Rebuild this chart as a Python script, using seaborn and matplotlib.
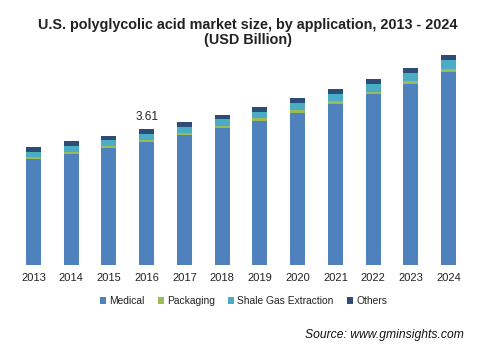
import matplotlib
matplotlib.use("Agg")
import matplotlib.pyplot as plt
import seaborn as sns
import pandas as pd
import numpy as np
from matplotlib.patches import Patch

years = ["2013", "2014", "2015", "2016", "2017", "2018", "2019", "2020", "2021", "2022", "2023", "2024"]
medical = [2.81, 2.95, 3.11, 3.27, 3.45, 3.64, 3.82, 4.03, 4.27, 4.54, 4.80, 5.12]
packaging = [0.05, 0.05, 0.05, 0.06, 0.06, 0.05, 0.08, 0.08, 0.08, 0.05, 0.08, 0.08]
shale = [0.14, 0.16, 0.16, 0.15, 0.15, 0.19, 0.16, 0.19, 0.19, 0.21, 0.21, 0.24]
others = [0.13, 0.13, 0.11, 0.13, 0.13, 0.11, 0.13, 0.13, 0.13, 0.13, 0.13, 0.13]
series_names = ["Medical", "Packaging", "Shale Gas Extraction", "Others"]
colors = ["#4f81bd", "#9bbb59", "#4bacc6", "#2c4d75"]
annot_year = "2016"
annot_text = "3.61"

sns.set_theme(style="white")
plt.rcParams["font.family"] = ["Liberation Sans", "DejaVu Sans"]

df = pd.DataFrame({"year": years, "Medical": medical, "Packaging": packaging,
                   "Shale Gas Extraction": shale, "Others": others})
cum = df[series_names].cumsum(axis=1)

fig = plt.figure(figsize=(4.84, 3.45), dpi=100)
ax = fig.add_axes([0.030, 0.232, 0.936, 0.655])

for name, col in reversed(list(zip(series_names, colors))):
    sns.barplot(x=df["year"], y=cum[name], color=col, width=0.40, ax=ax,
                saturation=1, linewidth=0, order=years)

ax.set_ylim(0, 6.0)
ax.set_xlim(-0.5, len(years) - 0.5)
ax.set_xlabel("")
ax.set_ylabel("")
ax.set_yticks([])
for s in ax.spines.values():
    s.set_visible(False)
ax.tick_params(axis="x", length=0, labelsize=8, colors="#222222", pad=6)

idx = years.index(annot_year)
total = cum["Others"].iloc[idx]
ax.annotate(annot_text, xy=(idx, total), xytext=(0, 4.5), textcoords="offset points",
            ha="center", va="bottom", fontsize=8.5, color="#222222")

fig.text(0.5125, 0.906, "U.S. polyglycolic acid market size, by application, 2013 - 2024\n(USD Billion)",
         ha="center", va="center", fontsize=10.4, fontweight="bold", color="#222222",
         linespacing=1.15)

handles = [Patch(facecolor=c, edgecolor="none", label=n) for n, c in zip(series_names, colors)]
fig.legend(handles=handles, loc="center", bbox_to_anchor=(0.503, 0.127), ncol=4, frameon=False,
           fontsize=7.4, handlelength=0.6, handleheight=0.6, handletextpad=0.3,
           columnspacing=1.3, labelcolor="#222222")

fig.text(0.958, 0.012, "Source: www.gminsights.com", ha="right", va="bottom",
         fontsize=8.7, style="italic", color="#111111")

fig.savefig("out.png", dpi=100)
